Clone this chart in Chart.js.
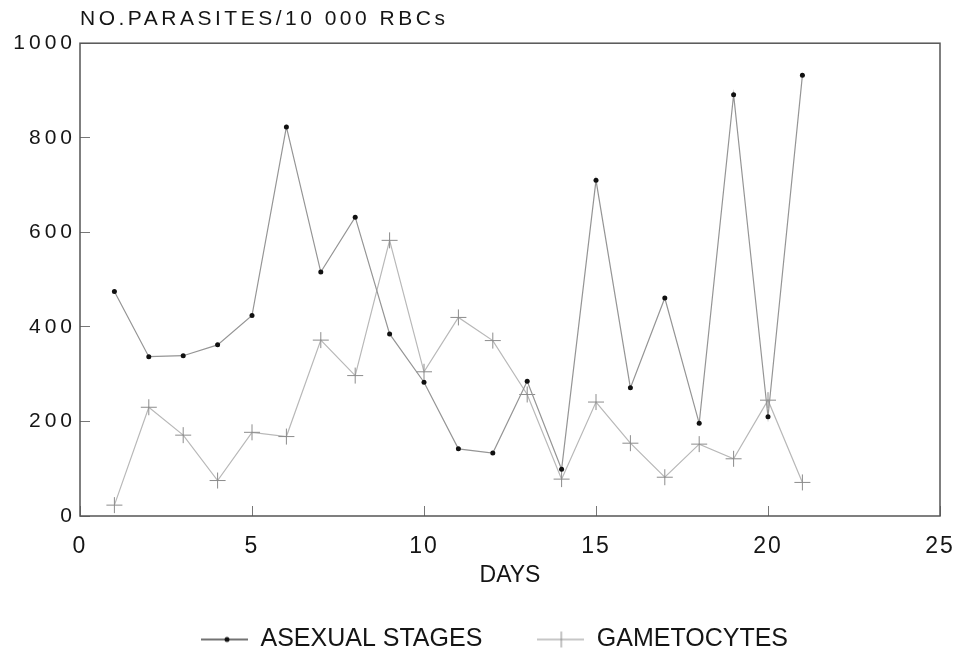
<!DOCTYPE html>
<html>
<head>
<meta charset="utf-8">
<title>Parasite counts</title>
<script src="https://cdn.jsdelivr.net/npm/chart.js@4.4.1/dist/chart.umd.min.js"></script>
<style>
	html, body { margin: 0; padding: 0; background: #fff; }
	#wrap { width: 962px; height: 662px; position: relative; }
</style>
</head>
<body>
<div id="wrap"><canvas id="parasites"></canvas></div>
<script>
(function () {

	'use strict';

	var days        = [1, 2, 3, 4, 5, 6, 7, 8, 9, 10, 11, 12, 13, 14, 15, 16, 17, 18, 19, 20, 21];
	var asexual     = [475, 337, 339, 362, 424, 823, 516, 632, 385, 283, 142, 133, 285, 99, 710, 271, 461, 196, 891, 210, 932];
	var gametocytes = [23, 230, 171, 75, 177, 168, 372, 297, 583, 305, 420, 371, 257, 78, 241, 154, 82, 152, 121, 245, 71];

	var dayTicks   = [0, 5, 10, 15, 20, 25];
	var countTicks = [0, 200, 400, 600, 800, 1000];

	var FONT = 'Liberation Sans, Arial, sans-serif';
	var INK  = '#151515';

	function points(values) {
		return days.map(function (d, i) {
			return { x: d, y: values[i] };
		});
	}

	function plain(value) {
		return String(value);
	}

	// little line + marker pictures for the legend
	function legendMark(lineColor, drawMarker) {
		var c = document.createElement('canvas');
		c.width = 47;
		c.height = 20;
		var g = c.getContext('2d');
		g.strokeStyle = lineColor;
		g.lineWidth = 1.5;
		g.beginPath();
		g.moveTo(0, 10);
		g.lineTo(47, 10);
		g.stroke();
		drawMarker(g);
		return c;
	}

	var marks = [
		legendMark('#444', function (g) {
			g.fillStyle = '#111';
			g.beginPath();
			g.arc(26, 10, 2.5, 0, Math.PI * 2);
			g.fill();
		}),
		legendMark('#b5b5b5', function (g) {
			g.strokeStyle = '#888';
			g.lineWidth = 1;
			g.beginPath();
			g.moveTo(24, 2);
			g.lineTo(24, 18);
			g.stroke();
		})
	];

	// per-part letter spacing of the canvas text
	function spaced(obj, name, spacing) {
		if (!obj || !obj[name] || obj[name]._spaced) return;
		var fn = obj[name];
		var wrapped = function () {
			var ctx = this.ctx;
			var prev = ctx.letterSpacing;
			ctx.letterSpacing = spacing;
			var r = fn.apply(this, arguments);
			ctx.letterSpacing = prev;
			return r;
		};
		wrapped._spaced = true;
		obj[name] = wrapped;
	}

	var letterSpacing = {
		id: 'letterSpacing',
		afterLayout: function (chart) {
			// legend sits a little right of the page centre
			chart.legend.left = 49;
		},
		beforeDraw: function (chart) {
			chart.ctx.letterSpacing = '3.5px';
			spaced(chart.scales.x, 'drawLabels', '2px');
			spaced(chart.scales.x, 'drawTitle', '0px');
			spaced(chart.scales.y, 'drawLabels', '4px');
			spaced(chart.legend, 'draw', '0px');
		}
	};

	var frame = {
		id: 'frame',
		beforeDatasetsDraw: function (chart) {
			var a = chart.chartArea;
			var ctx = chart.ctx;
			ctx.save();
			ctx.strokeStyle = '#555';
			ctx.lineWidth = 1.5;
			ctx.strokeRect(a.left, a.top, a.right - a.left, a.bottom - a.top);
			ctx.restore();
		}
	};

	var chart = new Chart(document.getElementById('parasites'), {

		type: 'line',
		data: {
			datasets: [{
				label: 'ASEXUAL STAGES',
				data: points(asexual),
				borderColor: '#959595',
				borderWidth: 1.2,
				pointRadius: 2.5,
				pointBackgroundColor: '#111',
				pointBorderWidth: 0,
				tension: 0
			}, {
				label: 'GAMETOCYTES',
				data: points(gametocytes),
				borderColor: '#b8b8b8',
				borderWidth: 1.2,
				pointStyle: 'cross',
				pointRadius: 8,
				pointBorderColor: '#8c8c8c',
				pointBorderWidth: 1,
				tension: 0
			}]
		},
		options: {
			responsive: true,
			maintainAspectRatio: false,
			animation: false,
			layout: {
				padding: { left: 0, right: 22, top: 0, bottom: 0 }
			},
			scales: {
				x: {
					type: 'linear',
					min: dayTicks[0],
					max: dayTicks[dayTicks.length - 1],
					afterBuildTicks: function (s) {
						s.ticks = dayTicks.map(function (v) { return { value: v }; });
					},
					afterFit: function (s) {
						s.height = 56;
						s.paddingLeft = 0;
						s.paddingRight = 0;
					},
					ticks: {
						padding: 27,
						color: INK,
						callback: plain,
						font: { family: FONT, size: 23 }
					},
					grid: {
						drawOnChartArea: false,
						tickLength: -10,
						color: '#777'
					},
					border: { display: false },
					title: {
						display: true,
						text: 'DAYS',
						color: INK,
						font: { family: FONT, size: 23 },
						padding: { top: 0, bottom: -17 }
					}
				},
				y: {
					min: countTicks[0],
					max: countTicks[countTicks.length - 1],
					afterBuildTicks: function (s) {
						s.ticks = countTicks.map(function (v) { return { value: v }; });
					},
					afterFit: function (s) { s.width = 80; },
					ticks: {
						padding: 14,
						color: INK,
						callback: plain,
						font: { family: FONT, size: 21 }
					},
					grid: {
						drawOnChartArea: false,
						tickLength: -10,
						color: '#777'
					},
					border: { display: false }
				}
			},
			plugins: {
				title: {
					display: true,
					text: 'NO.PARASITES/10 000 RBCs',
					align: 'start',
					fullSize: false,
					color: INK,
					font: { family: FONT, size: 21, weight: 'normal' },
					padding: { top: 7, bottom: 11 }
				},
				legend: {
					position: 'bottom',
					labels: {
						usePointStyle: true,
						pointStyleWidth: 47,
						padding: 55,
						color: INK,
						font: { family: FONT, size: 25 },
						generateLabels: function (c) {
							var items = Chart.defaults.plugins.legend.labels.generateLabels(c);
							items.forEach(function (item, i) {
								item.pointStyle = marks[i];
							});
							return items;
						}
					}
				},
				tooltip: { enabled: false }
			}
		},
		plugins: [letterSpacing, frame]
	});

})();
</script>
</body>
</html>
